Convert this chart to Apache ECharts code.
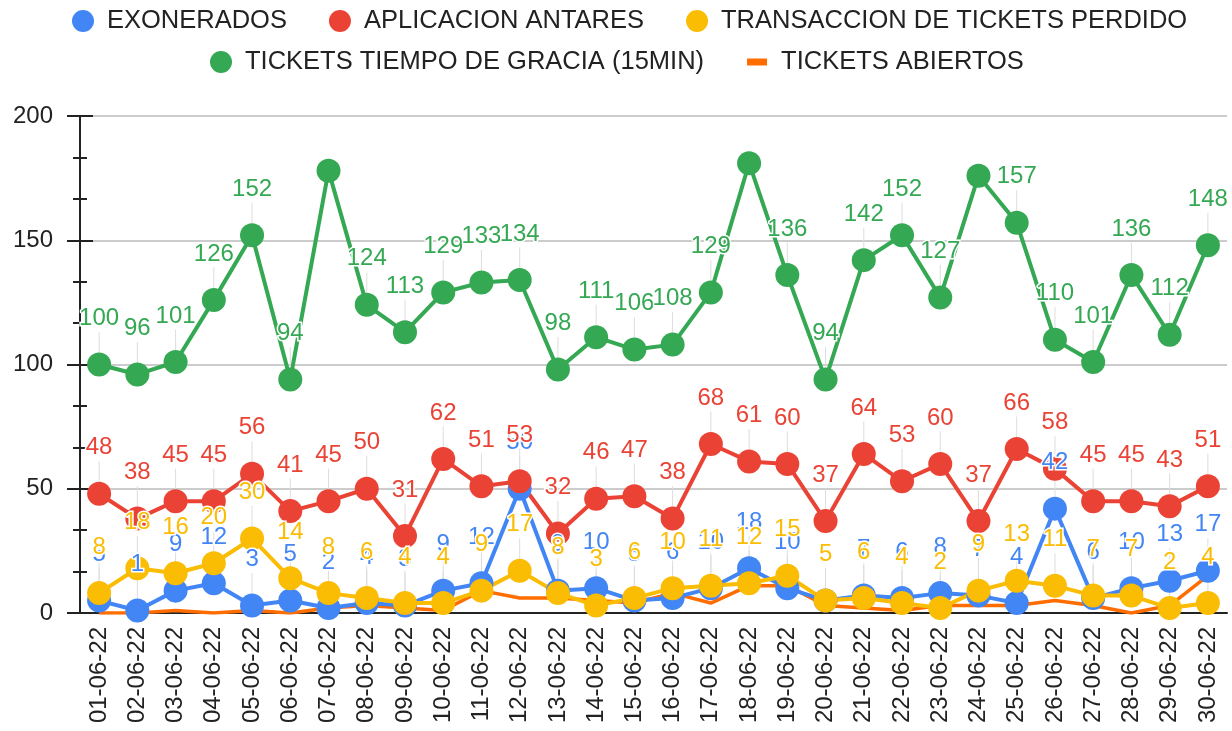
<!DOCTYPE html>
<html>
<head>
<meta charset="utf-8">
<title>Tickets junio 2022</title>
<script src="https://cdn.jsdelivr.net/npm/echarts@6/dist/echarts.min.js"></script>
<style>
  html, body { margin: 0; padding: 0; background: #fff; }
  #chart { width: 1232px; height: 731px; }
</style>
</head>
<body>
<div id="chart"></div>
<script>
// fechas (eje x)
var categories = [
  "01-06-22", "02-06-22", "03-06-22", "04-06-22", "05-06-22", "06-06-22",
  "07-06-22", "08-06-22", "09-06-22", "10-06-22", "11-06-22", "12-06-22",
  "13-06-22", "14-06-22", "15-06-22", "16-06-22", "17-06-22", "18-06-22",
  "19-06-22", "20-06-22", "21-06-22", "22-06-22", "23-06-22", "24-06-22",
  "25-06-22", "26-06-22", "27-06-22", "28-06-22", "29-06-22", "30-06-22"
];

var exonerados = [5, 1, 9, 12, 3, 5, 2, 4, 3, 9, 12, 50, 9, 10, 5, 6, 10, 18, 10, 5, 7, 6, 8, 7, 4, 42, 6, 10, 13, 17];
var antares = [48, 38, 45, 45, 56, 41, 45, 50, 31, 62, 51, 53, 32, 46, 47, 38, 68, 61, 60, 37, 64, 53, 60, 37, 66, 58, 45, 45, 43, 51];
var perdido = [8, 18, 16, 20, 30, 14, 8, 6, 4, 4, 9, 17, 8, 3, 6, 10, 11, 12, 15, 5, 6, 4, 2, 9, 13, 11, 7, 7, 2, 4];
var gracia = [100, 96, 101, 126, 152, 94, 178, 124, 113, 129, 133, 134, 98, 111, 106, 108, 129, 181, 136, 94, 142, 152, 127, 176, 157, 110, 101, 136, 112, 148];
var abiertos = [0, 0, 1, 0, 1, 0, 2, 3, 2, 1, 9, 6, 6, 5, 4, 8, 4, 11, 11, 3, 2, 1, 3, 3, 3, 5, 3, 0, 3, 15];

// etiquetas verdes que no aparecen en el original (indices)
var graciaSinEtiqueta = [6, 17, 23];

// eje y
var yMin = 0;
var yMax = 200;
var yStep = 50;

var names = [
  "EXONERADOS",
  "APLICACION ANTARES",
  "TRANSACCION DE TICKETS PERDIDO",
  "TICKETS TIEMPO DE GRACIA (15MIN)",
  "TICKETS ABIERTOS"
];
var colors = ["#4285F4", "#EA4335", "#FBBC04", "#34A853", "#FF6D01"];
var font = "'Liberation Sans', Arial, sans-serif";

var chart = echarts.init(document.getElementById("chart"), null, { renderer: "canvas" });

// serie de linea con puntos y etiquetas
function lineSerie(name, data, color) {
  return {
    name: name,
    type: "line",
    data: data,
    symbol: "circle",
    symbolSize: 24,
    color: color,
    lineStyle: { width: 4, color: color },
    itemStyle: { color: color },
    label: {
      show: true,
      position: "top",
      distance: 4,
      fontSize: 24,
      fontFamily: font,
      color: color,
      textBorderColor: "#fff",
      textBorderWidth: 3
    },
    labelLayout: { dy: -18 },
    labelLine: {
      show: true,
      lineStyle: { color: "#ddd", width: 1 }
    },
    emphasis: { disabled: true },
    z: 2
  };
}

var graciaData = gracia.map(function(v, i) {
  if (graciaSinEtiqueta.indexOf(i) >= 0) {
    return { value: v, label: { show: false }, labelLine: { show: false } };
  }
  return v;
});

var legendText = {
  fontSize: 25.5,
  fontFamily: font,
  color: "#222",
  padding: [0, 0, 0, 8]
};

var option = {
  animation: false,
  legend: [
    {
      top: 8,
      left: 72,
      padding: 0,
      itemWidth: 22,
      itemHeight: 22,
      itemGap: 42,
      selectedMode: false,
      textStyle: legendText,
      data: [
        { name: names[0], icon: "circle" },
        { name: names[1], icon: "circle" },
        { name: names[2], icon: "circle" }
      ]
    },
    {
      top: 49,
      left: 210,
      padding: 0,
      itemWidth: 22,
      itemHeight: 22,
      itemGap: 42,
      selectedMode: false,
      textStyle: legendText,
      data: [
        { name: names[3], icon: "circle" },
        { name: names[4], icon: "path://M0,0 M22,22 M1,7.5 L21,7.5 L21,14.5 L1,14.5 Z" }
      ]
    }
  ],
  grid: {
    left: 80,
    right: 5,
    top: 116,
    bottom: 118,
    containLabel: false
  },
  xAxis: {
    type: "category",
    data: categories,
    boundaryGap: true,
    axisLine: { lineStyle: { color: "#222", width: 2 } },
    axisTick: { show: false },
    axisLabel: {
      interval: 0,
      rotate: 90,
      margin: 14,
      fontSize: 24,
      fontFamily: font,
      color: "#222"
    },
    splitLine: { show: false }
  },
  yAxis: [
    {
      type: "value",
      position: "left",
      min: yMin,
      max: yMax,
      interval: yStep,
      axisLine: { show: true, lineStyle: { color: "#222", width: 2 } },
      axisTick: { show: true, length: 13, lineStyle: { color: "#222", width: 2 } },
      minorTick: { show: true, splitNumber: 3, length: 7, lineStyle: { color: "#222", width: 2 } },
      axisLabel: { margin: 27, fontSize: 24, fontFamily: font, color: "#222" },
      splitLine: { lineStyle: { color: "#ccc", width: 2 } }
    },
    {
      // solo para que las marcas crucen el eje hacia dentro
      type: "value",
      position: "left",
      min: yMin,
      max: yMax,
      interval: yStep,
      axisLine: { show: false },
      axisTick: { show: true, inside: true, length: 13, lineStyle: { color: "#222", width: 2 } },
      minorTick: { show: true, splitNumber: 3, length: 7, lineStyle: { color: "#222", width: 2 } },
      axisLabel: { show: false },
      splitLine: { show: false }
    }
  ],
  series: [
    lineSerie(names[0], exonerados, colors[0]),
    lineSerie(names[1], antares, colors[1]),
    lineSerie(names[2], perdido, colors[2]),
    lineSerie(names[3], graciaData, colors[3]),
    {
      name: names[4],
      type: "line",
      data: abiertos,
      symbol: "none",
      color: colors[4],
      lineStyle: { width: 3.5, color: colors[4] },
      itemStyle: { color: colors[4] },
      emphasis: { disabled: true },
      z: 1
    }
  ]
};

chart.setOption(option);
</script>
</body>
</html>
